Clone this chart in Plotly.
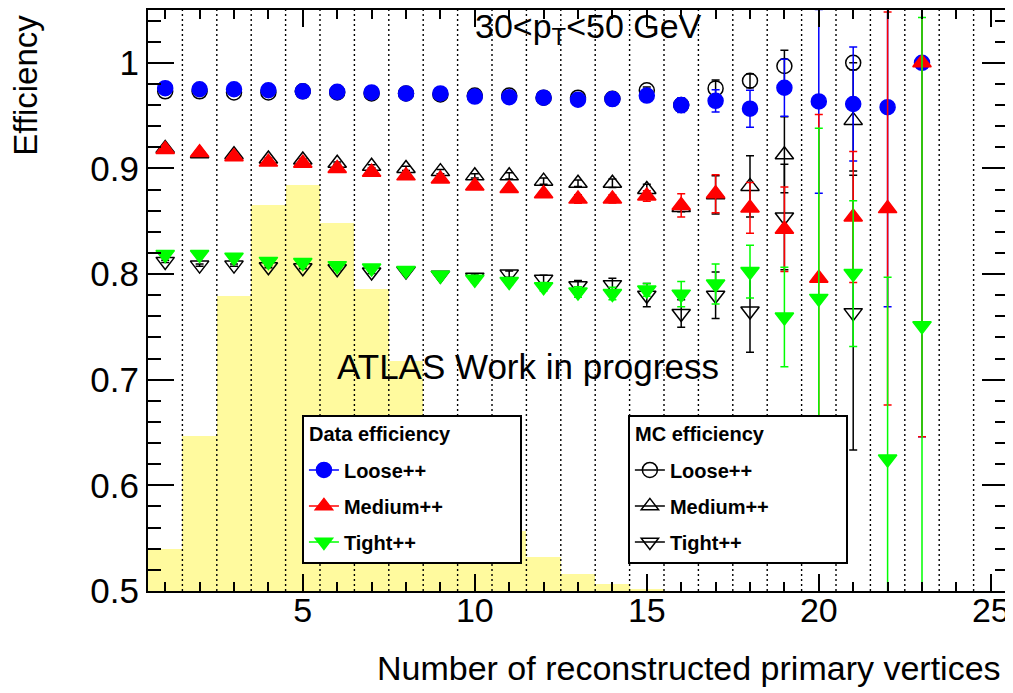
import plotly.graph_objects as go

# number of reconstructed primary vertices (bin centres)
nvtx = list(range(1, 24))

# data efficiencies
data_loose = [0.976, 0.975, 0.975, 0.974, 0.973, 0.9725, 0.972, 0.971, 0.971, 0.968, 0.9675, 0.967,
              0.965, 0.9657, 0.969, 0.960, 0.964, 0.9566, 0.9764, 0.9635, 0.961, 0.958, 1.0]
data_loose_err = [0.001, 0.001, 0.001, 0.001, 0.001, 0.001, 0.001, 0.0015, 0.002, 0.002, 0.002, 0.003,
                  0.003, 0.004, 0.005, 0.007, 0.0105, 0.0175, 0.027, 0.087, 0.054, 0.189, 0.354]
data_medium = [0.918, 0.915, 0.911, 0.906, 0.905, 0.900, 0.8965, 0.893, 0.890, 0.8835, 0.881, 0.876,
               0.871, 0.8712, 0.874, 0.865, 0.876, 0.8626, 0.8425, 0.796, 0.854, 0.862, 1.0]
data_medium_err = [0.001, 0.001, 0.001, 0.001, 0.001, 0.001, 0.0015, 0.002, 0.002, 0.002, 0.003, 0.003,
                   0.004, 0.004, 0.005, 0.011, 0.018, 0.024, 0.040, 0.155, 0.062, 0.186, 0.354]
data_tight = [0.8186, 0.8186, 0.816, 0.812, 0.811, 0.808, 0.8057, 0.8035, 0.799, 0.795, 0.793, 0.788,
              0.783, 0.7816, 0.785, 0.781, 0.7906, 0.8024, 0.7594, 0.777, 0.8005, 0.625, 0.751]
data_tight_err = [0.001, 0.001, 0.001, 0.001, 0.001, 0.001, 0.0015, 0.002, 0.002, 0.003, 0.003, 0.004,
                  0.005, 0.006, 0.006, 0.012, 0.019, 0.025, 0.047, 0.161, 0.069, 0.172, 0.292]

# MC efficiencies
mc_loose = [0.973, 0.973, 0.972, 0.972, 0.973, 0.972, 0.971, 0.971, 0.970, 0.969, 0.969, 0.967,
            0.967, 0.966, 0.974, 0.960, 0.9758, 0.983, 0.997, None, 1.0, None, None]
mc_loose_err = [0.001, 0.001, 0.001, 0.001, 0.001, 0.001, 0.001, 0.001, 0.002, 0.002, 0.002, 0.002,
                0.003, 0.003, 0.003, 0.004, 0.008, 0.0065, 0.015, None, 0.0, None, None]
mc_medium = [0.919, 0.914, 0.913, 0.909, 0.908, 0.905, 0.902, 0.900, 0.897, 0.893, 0.893, 0.888,
             0.886, 0.886, 0.880, 0.863, 0.875, 0.883, 0.913, None, 0.9455, None, None]
mc_medium_err = [0.001, 0.001, 0.001, 0.001, 0.001, 0.001, 0.0015, 0.002, 0.002, 0.002, 0.003, 0.003,
                 0.003, 0.004, 0.005, 0.004, 0.018, 0.029, 0.036, None, 0.048, None, None]
mc_tight = [0.812, 0.8085, 0.8085, 0.807, 0.806, 0.805, 0.802, 0.803, 0.799, 0.797, 0.800, 0.795,
            0.789, 0.790, 0.780, 0.7627, 0.780, 0.765, 0.854, None, 0.7635, None, None]
mc_tight_err = [0.001, 0.001, 0.001, 0.001, 0.001, 0.001, 0.0015, 0.002, 0.002, 0.003, 0.003, 0.004,
                0.005, 0.006, 0.011, 0.013, 0.022, 0.039, 0.050, None, 0.13, None, None]

# vertex multiplicity distribution (drawn on top of the 0.5 axis floor)
hist_bins = list(range(1, 16))
hist_height = [0.040, 0.147, 0.279, 0.365, 0.384, 0.348, 0.286, 0.218, 0.155, 0.100, 0.057,
               0.032, 0.016, 0.007, 0.002]

FONT = "Liberation Sans, Arial, Helvetica, sans-serif"

fig = go.Figure()

fig.add_trace(go.Bar(
    x=hist_bins, y=hist_height, base=0.5, width=1,
    marker=dict(color="#fffa9e", line=dict(width=0)),
    showlegend=False, hoverinfo="skip"
))


def eff(y, err, symbol, color, size):
    return go.Scatter(
        x=nvtx, y=y, mode="markers", showlegend=False,
        marker=dict(symbol=symbol, size=size, color=color, line=dict(width=1.5, color=color)),
        error_y=dict(type="data", array=err, color=color, thickness=1.5, width=4),
    )


fig.add_trace(eff(mc_loose, mc_loose_err, "circle-open", "black", 15))
fig.add_trace(eff(mc_medium, mc_medium_err, "triangle-up-open", "black", 16))
fig.add_trace(eff(mc_tight, mc_tight_err, "triangle-down-open", "black", 16))
fig.add_trace(eff(data_loose, data_loose_err, "circle", "#0000ff", 15))
fig.add_trace(eff(data_medium, data_medium_err, "triangle-up", "#ff0000", 16))
fig.add_trace(eff(data_tight, data_tight_err, "triangle-down", "#00ff00", 16))

# legend entries
entries = [
    ("legend", "Loose++", "circle", "#0000ff"),
    ("legend", "Medium++", "triangle-up", "#ff0000"),
    ("legend", "Tight++", "triangle-down", "#00ff00"),
    ("legend2", "Loose++", "circle-open", "black"),
    ("legend2", "Medium++", "triangle-up-open", "black"),
    ("legend2", "Tight++", "triangle-down-open", "black"),
]
for i, (lg, name, sym, col) in enumerate(entries):
    fig.add_trace(go.Scatter(
        x=[None], y=[None], mode="lines+markers", name="<b>%s</b>" % name,
        legend=lg, legendgroup="g%d" % i,
        marker=dict(symbol=sym, size=15, color=col, line=dict(width=1.5, color=col)),
        line=dict(color=col, width=1.5),
    ))

# dotted separators between bins
for edge in [b + 0.5 for b in range(1, 25)]:
    fig.add_shape(type="line", xref="x", yref="paper", x0=edge, x1=edge, y0=0, y1=1,
                  line=dict(color="black", width=1.4, dash="2px,3px"), layer="above")

# legend titles are blank spacers that size the boxes; the headers are annotations
legend_style = dict(
    xanchor="left", yanchor="top", bgcolor="white", bordercolor="black", borderwidth=2,
    font=dict(family=FONT, size=20, color="black"), tracegroupgap=7, itemsizing="trace",
)
pad = "&nbsp;"
spacer = dict(family=FONT, size=26, color="black")
fig.update_layout(
    legend=dict(x=0.179, y=0.3036,
                title=dict(text="<span style='font-size:20px'>" + pad * 38 + "</span>", font=spacer),
                **legend_style),
    legend2=dict(x=0.558, y=0.3036,
                 title=dict(text="<span style='font-size:20px'>" + pad * 38 + "</span>", font=spacer),
                 **legend_style),
)
fig.add_annotation(text="<b>Data efficiency</b>", xref="paper", yref="paper", x=0.1849, y=0.271,
                   xanchor="left", yanchor="middle", showarrow=False, font=dict(family=FONT, size=20, color="black"))
fig.add_annotation(text="<b>MC efficiency</b>", xref="paper", yref="paper", x=0.564, y=0.271,
                   xanchor="left", yanchor="middle", showarrow=False, font=dict(family=FONT, size=20, color="black"))

fig.add_annotation(text="30&lt;p<sub>T</sub>&lt;50 GeV", xref="paper", yref="paper", x=0.378, y=0.9674,
                   xanchor="left", yanchor="middle", showarrow=False, font=dict(family=FONT, size=34, color="black"))
fig.add_annotation(text="ATLAS Work in progress", xref="paper", yref="paper", x=0.2174, y=0.386,
                   xanchor="left", yanchor="middle", showarrow=False, font=dict(family=FONT, size=35, color="black"))
fig.add_annotation(text="Efficiency", xref="paper", yref="paper", x=-0.142, y=0.994, textangle=-90,
                   xanchor="center", yanchor="top", showarrow=False, borderpad=0,
                   font=dict(family=FONT, size=33, color="black"))
fig.add_annotation(text="Number of reconstructed primary vertices", xref="paper", yref="paper", x=0.994, y=-0.132,
                   xanchor="right", yanchor="middle", showarrow=False, font=dict(family=FONT, size=34, color="black"))

fig.update_xaxes(
    range=[0.5, 25.5], tick0=0, dtick=5, ticks="inside", ticklen=17, tickwidth=2, tickcolor="black",
    minor=dict(dtick=1, tick0=0, ticks="inside", ticklen=9, tickwidth=2, tickcolor="black", showgrid=False),
    showline=True, linecolor="black", linewidth=2, mirror="allticks", showgrid=False, zeroline=False,
    tickfont=dict(family=FONT, size=34, color="black"), ticklabelstandoff=-12,
)
fig.update_yaxes(
    range=[0.5, 1.05], tickvals=[0.5, 0.6, 0.7, 0.8, 0.9, 1.0], ticktext=["0.5", "0.6", "0.7", "0.8", "0.9", "1"],
    ticks="inside", ticklen=26, tickwidth=2, tickcolor="black",
    minor=dict(dtick=0.02, tick0=0.5, ticks="inside", ticklen=13, tickwidth=2, tickcolor="black", showgrid=False),
    showline=True, linecolor="black", linewidth=2, mirror="allticks", showgrid=False, zeroline=False,
    tickfont=dict(family=FONT, size=35, color="black"),
)
# the page body adds an 8px offset, so the figure is drawn 8px smaller
fig.update_layout(
    width=1005, height=685, margin=dict(l=140, r=5, t=0, b=102),
    plot_bgcolor="white", paper_bgcolor="white", bargap=0, showlegend=True,
)

fig.write_html("out.html")
